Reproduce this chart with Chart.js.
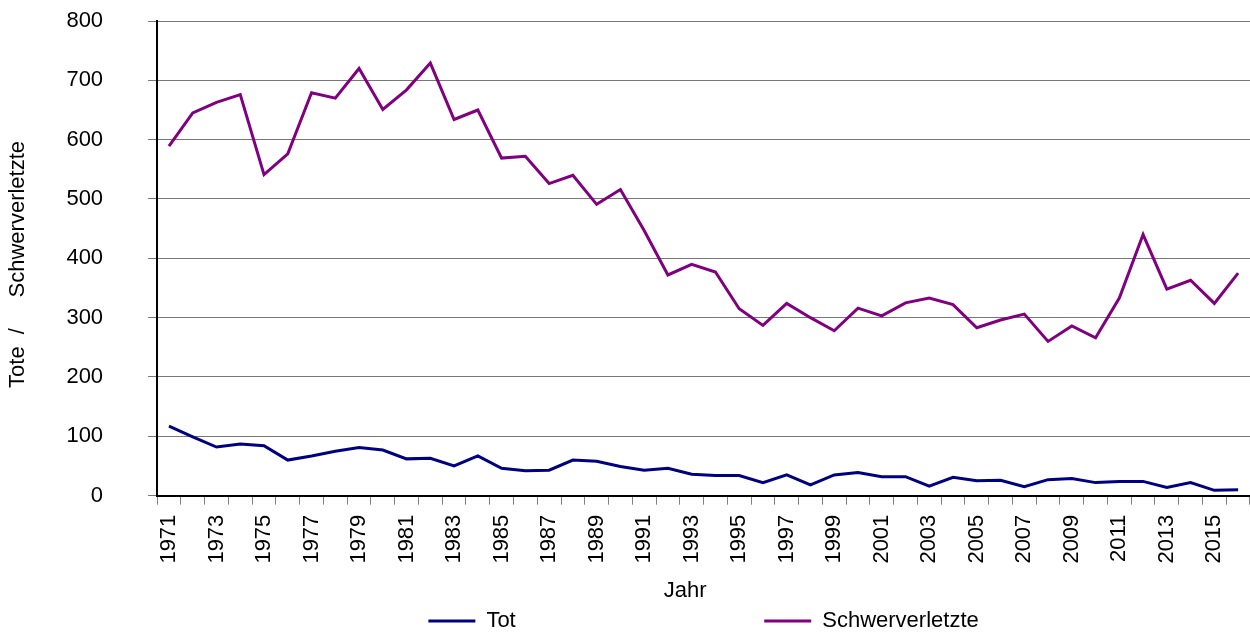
<!DOCTYPE html>
<html>
<head>
<title>Tote / Schwerverletzte</title>
<script src="https://cdn.jsdelivr.net/npm/chart.js"></script>
<style>
html, body { margin: 0; padding: 0; background: #fff; }
.chart-container { position: relative; width: 1250px; height: 637px; }
</style>
</head>
<body>
<div class="chart-container">
<canvas id="unfallChart"></canvas>
</div>
<script>
const jahre = ['1971','1972','1973','1974','1975','1976','1977','1978','1979','1980',
  '1981','1982','1983','1984','1985','1986','1987','1988','1989','1990',
  '1991','1992','1993','1994','1995','1996','1997','1998','1999','2000',
  '2001','2002','2003','2004','2005','2006','2007','2008','2009','2010',
  '2011','2012','2013','2014','2015','2016'];
const tot = [117, 99, 82, 87, 84, 60, 67, 75, 81, 77,
  62, 63, 50, 67, 46, 42, 43, 60, 58, 49,
  43, 46, 36, 34, 34, 22, 35, 18, 35, 39,
  32, 32, 16, 31, 25, 26, 15, 27, 29, 22,
  24, 24, 14, 22, 9, 10];
const schwerverletzte = [589, 645, 663, 676, 541, 576, 679, 670, 720, 651,
  684, 729, 634, 650, 569, 572, 526, 540, 491, 516,
  447, 372, 390, 377, 315, 287, 324, 300, 278, 316,
  303, 325, 333, 322, 283, 296, 306, 260, 286, 266,
  333, 440, 348, 363, 324, 375];
const yTicks = [0, 100, 200, 300, 400, 500, 600, 700, 800];

Chart.defaults.font.family = "'Liberation Sans', Arial, sans-serif";
Chart.defaults.font.size = 22;
Chart.defaults.color = '#000';

const ctx = document.getElementById('unfallChart').getContext('2d');
const chart = new Chart(ctx, {
  type: 'line',
  data: {
    labels: jahre,
    datasets: [{
      label: 'Tot',
      data: tot,
      borderColor: '#000080',
      backgroundColor: '#000080',
      borderWidth: 3,
      pointRadius: 0,
      tension: 0
    },
    {
      label: 'Schwerverletzte',
      data: schwerverletzte,
      borderColor: '#800080',
      backgroundColor: '#800080',
      borderWidth: 3,
      pointRadius: 0,
      tension: 0
    }]
  },
  options: {
    responsive: true,
    maintainAspectRatio: false,
    animation: false,
    layout: { padding: { top: 21, right: 0, bottom: -5, left: 0 } },
    scales: {
      x: {
        offset: true,
        grid: { offset: true, drawOnChartArea: false, drawTicks: true, tickLength: 9, color: '#808080', lineWidth: 1 },
        border: { color: '#000', width: 2 },
        ticks: {
          autoSkip: false,
          maxRotation: 90,
          minRotation: 90,
          padding: 10,
          callback: function (value, index) {
            return index % 2 === 0 ? this.getLabelForValue(value) : '';
          }
        },
        title: { display: true, text: 'Jahr      ', padding: { top: 4, bottom: 2 } },
        afterFit: function (axis) {
          axis.paddingLeft = 0;
          axis.paddingRight = 0;
        }
      },
      y: {
        min: 0,
        max: 800,
        afterBuildTicks: function (axis) {
          axis.ticks = yTicks.map(v => ({ value: v }));
        },
        grid: { color: '#777', lineWidth: 1, tickLength: 9 },
        border: { color: '#000', width: 2 },
        ticks: { padding: 45 },
        title: {
          display: true,
          text: 'Tote  /     Schwerverletzte  ',
          padding: { top: 5, bottom: -10 }
        },
        afterFit: function (axis) {
          axis.paddingTop = 0;
          axis.paddingBottom = 0;
        }
      }
    },
    plugins: {
      legend: {
        position: 'bottom',
        fullSize: false,
        labels: {
          boxWidth: 47,
          boxHeight: 3,
          padding: 4,
          generateLabels: function (c) {
            const items = Chart.defaults.plugins.legend.labels.generateLabels(c);
            items.forEach(function (it, i) {
              it.lineWidth = 0;
              it.fillStyle = c.data.datasets[i].borderColor;
              if (i === 0) it.text = it.text + ' '.repeat(40);
            });
            return items;
          }
        }
      },
      tooltip: { enabled: false }
    }
  }
});
</script>
</body>
</html>
